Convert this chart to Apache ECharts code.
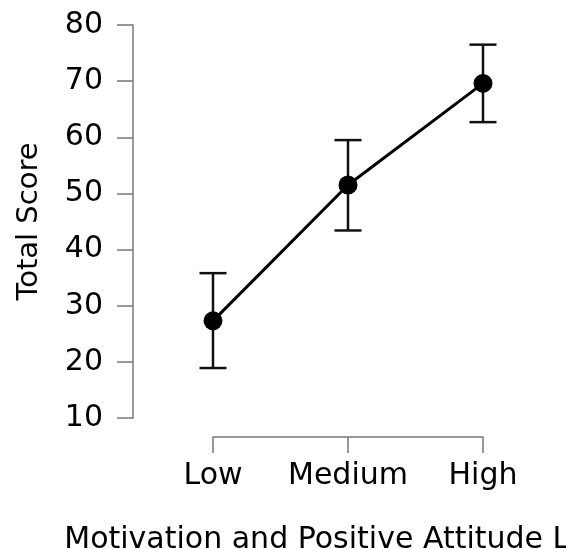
<!DOCTYPE html>
<html><head><meta charset="utf-8">
<script src="https://cdn.jsdelivr.net/npm/echarts@6/dist/echarts.min.js"></script>
<style>html,body{margin:0;padding:0;background:#fff}#c{width:566px;height:549px}</style>
</head><body><div id="c"></div>
<script>
const categories = ['Low', 'Medium', 'High'];
const means = [27.3, 51.5, 69.6];
const lowerCI = [18.9, 43.4, 62.7];
const upperCI = [35.8, 59.5, 76.5];
const yTicks = [10, 20, 30, 40, 50, 60, 70, 80];

const chart = echarts.init(document.getElementById('c'), null, {renderer: 'canvas'});
const font = 'DejaVu Sans';
const axisColor = '#777';
chart.setOption({
  animation: false,
  grid: {left: 213, right: 83, top: 25, bottom: 131, outerBoundsMode: 'none', containLabel: false},
  xAxis: {
    type: 'category', data: categories, boundaryGap: false, offset: 19,
    name: 'Motivation and Positive Attitude Level', nameLocation: 'middle', nameGap: 88,
    nameTextStyle: {fontFamily: font, fontSize: 30, color: '#000'},
    axisLine: {lineStyle: {color: axisColor, width: 1.5}},
    axisTick: {alignWithLabel: true, length: 16, interval: 0, lineStyle: {color: axisColor, width: 1.5}},
    axisLabel: {fontFamily: font, fontSize: 30, color: '#000', margin: 24, interval: 0, hideOverlap: false},
    splitLine: {show: false}
  },
  yAxis: {
    type: 'value', min: yTicks[0], max: yTicks[yTicks.length - 1], interval: 10, offset: 80,
    name: 'Total Score', nameLocation: 'middle', nameGap: 89,
    nameTextStyle: {fontFamily: font, fontSize: 29, color: '#000'},
    axisLine: {show: true, lineStyle: {color: axisColor, width: 1.5}},
    axisTick: {show: true, length: 16, lineStyle: {color: axisColor, width: 1.5}},
    axisLabel: {fontFamily: font, fontSize: 30, color: '#000', margin: 30},
    splitLine: {show: false}
  },
  series: [
    {
      type: 'custom', z: 3,
      data: categories.map((c, i) => [i, lowerCI[i], upperCI[i]]),
      renderItem: function (params, api) {
        const lo = api.coord([api.value(0), api.value(1)]);
        const hi = api.coord([api.value(0), api.value(2)]);
        const hw = 13.5;
        const st = {stroke: '#111', lineWidth: 2.5, fill: null};
        return {type: 'group', children: [
          {type: 'line', shape: {x1: lo[0], y1: lo[1], x2: hi[0], y2: hi[1]}, style: st},
          {type: 'line', shape: {x1: lo[0] - hw, y1: lo[1], x2: lo[0] + hw, y2: lo[1]}, style: st},
          {type: 'line', shape: {x1: hi[0] - hw, y1: hi[1], x2: hi[0] + hw, y2: hi[1]}, style: st}
        ]};
      }
    },
    {
      type: 'line', z: 4, data: means, symbol: 'circle', symbolSize: 19,
      lineStyle: {color: '#000', width: 3}, itemStyle: {color: '#000'}
    }
  ]
});
</script></body></html>
